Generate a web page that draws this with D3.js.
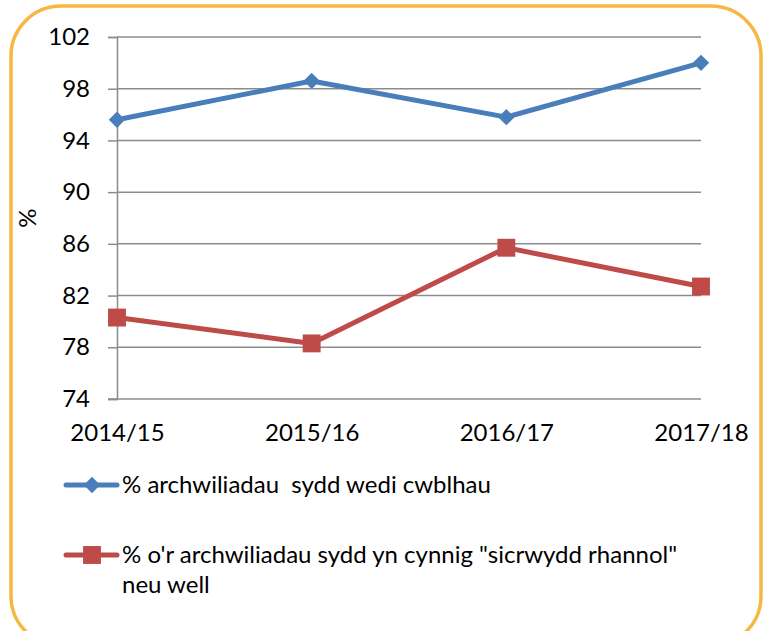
<!DOCTYPE html>
<html>
<head>
<meta charset="utf-8">
<script src="https://cdn.jsdelivr.net/npm/d3@7"></script>
<style>
  html, body { margin: 0; padding: 0; background: #fff; }
  svg { display: block; font-family: Lato, "Open Sans", sans-serif; }
</style>
</head>
<body>
<svg id="chart" width="768" height="631"></svg>
<script>
// Audit years and the two measures tracked over them
const years = ["2014/15", "2015/16", "2016/17", "2017/18"];
const completedPct = [95.6, 98.6, 95.8, 100];
const assurancePct = [80.3, 78.3, 85.7, 82.7];
const yTicks = [74, 78, 82, 86, 90, 94, 98, 102];
const seriesNames = [
  "% archwiliadau  sydd wedi cwblhau",
  "% o'r archwiliadau sydd yn cynnig \"sicrwydd rhannol\"",
  "neu well"
];

const FONT = "Lato, 'Open Sans', sans-serif";
const FS = 24;
const svg = d3.select("#chart");

// Rounded frame around the whole chart
svg.append("rect")
  .attr("x", 11).attr("y", 6).attr("width", 750).attr("height", 640)
  .attr("rx", 50).attr("ry", 50)
  .attr("fill", "#fff").attr("stroke", "#F7B744").attr("stroke-width", 3.5);

const plot = { left: 117, right: 701, top: 37, bottom: 399 };

const x = d3.scalePoint().domain(years).range([plot.left, plot.right]);
const y = d3.scaleLinear().domain([74, 102]).range([plot.bottom, plot.top]);

// Horizontal gridlines
svg.append("g")
  .selectAll("line")
  .data(yTicks.filter(t => t !== 74))
  .join("line")
  .attr("x1", plot.left).attr("x2", plot.right)
  .attr("y1", d => y(d)).attr("y2", d => y(d))
  .attr("stroke", "#8c8c8c").attr("stroke-width", 1.5);

// Y axis
const yAxis = d3.axisLeft(y).tickValues(yTicks).tickSize(9).tickPadding(18);
const gy = svg.append("g").attr("transform", `translate(${plot.left},0)`).call(yAxis);
gy.select(".domain").attr("stroke", "#8c8c8c").attr("stroke-width", 1.5);
gy.selectAll(".tick line").attr("stroke", "#8c8c8c").attr("stroke-width", 1.5);
gy.selectAll(".tick text")
  .attr("font-size", FS).attr("fill", "#000").attr("font-family", FONT);

// X axis (baseline only, labels below)
const xAxis = d3.axisBottom(x).tickSize(0).tickPadding(25);
const gx = svg.append("g").attr("transform", `translate(0,${plot.bottom})`).call(xAxis);
gx.select(".domain").remove();
gx.append("line")
  .attr("x1", plot.left - 9).attr("x2", plot.right)
  .attr("y1", 0).attr("y2", 0)
  .attr("stroke", "#8c8c8c").attr("stroke-width", 1.5);
gx.selectAll(".tick text")
  .attr("font-size", FS).attr("fill", "#000").attr("font-family", FONT);

// Y axis title
svg.append("text")
  .attr("transform", "translate(36,218) rotate(-90)")
  .attr("text-anchor", "middle")
  .attr("font-size", FS)
  .text("%");

const line = d3.line().x((d, i) => x(years[i])).y(d => y(d));
const blue = "#4A7EBB", red = "#BE4B48";

const diamond = d3.symbol().type(d3.symbolDiamond2).size(170);
const square = d3.symbol().type(d3.symbolSquare).size(320);

// Completed audits series
svg.append("path").datum(completedPct)
  .attr("d", line).attr("fill", "none")
  .attr("stroke", blue).attr("stroke-width", 5).attr("stroke-linejoin", "round");
svg.append("g").selectAll("path").data(completedPct).join("path")
  .attr("d", diamond)
  .attr("transform", (d, i) => `translate(${x(years[i])},${y(d)})`)
  .attr("fill", blue);

// Assurance level series
svg.append("path").datum(assurancePct)
  .attr("d", line).attr("fill", "none")
  .attr("stroke", red).attr("stroke-width", 5).attr("stroke-linejoin", "round");
svg.append("g").selectAll("path").data(assurancePct).join("path")
  .attr("d", square)
  .attr("transform", (d, i) => `translate(${x(years[i])},${y(d)})`)
  .attr("fill", red);

// Legend
const legend = svg.append("g");
const legendItems = [
  { color: blue, sym: diamond, y: 485, lines: [seriesNames[0]] },
  { color: red, sym: square, y: 555, lines: [seriesNames[1], seriesNames[2]] }
];
legendItems.forEach(item => {
  legend.append("line")
    .attr("x1", 66).attr("x2", 117)
    .attr("y1", item.y).attr("y2", item.y)
    .attr("stroke", item.color).attr("stroke-width", 5).attr("stroke-linecap", "round");
  legend.append("path")
    .attr("d", item.sym)
    .attr("transform", `translate(92,${item.y})`)
    .attr("fill", item.color);
  const t = legend.append("text")
    .attr("x", 122).attr("y", item.y + 8)
    .attr("font-size", FS).attr("fill", "#000").attr("font-family", FONT)
    .attr("xml:space", "preserve");
  item.lines.forEach((l, i) => {
    t.append("tspan").attr("x", 122).attr("dy", i === 0 ? 0 : 30).text(l);
  });
});
</script>
</body>
</html>
